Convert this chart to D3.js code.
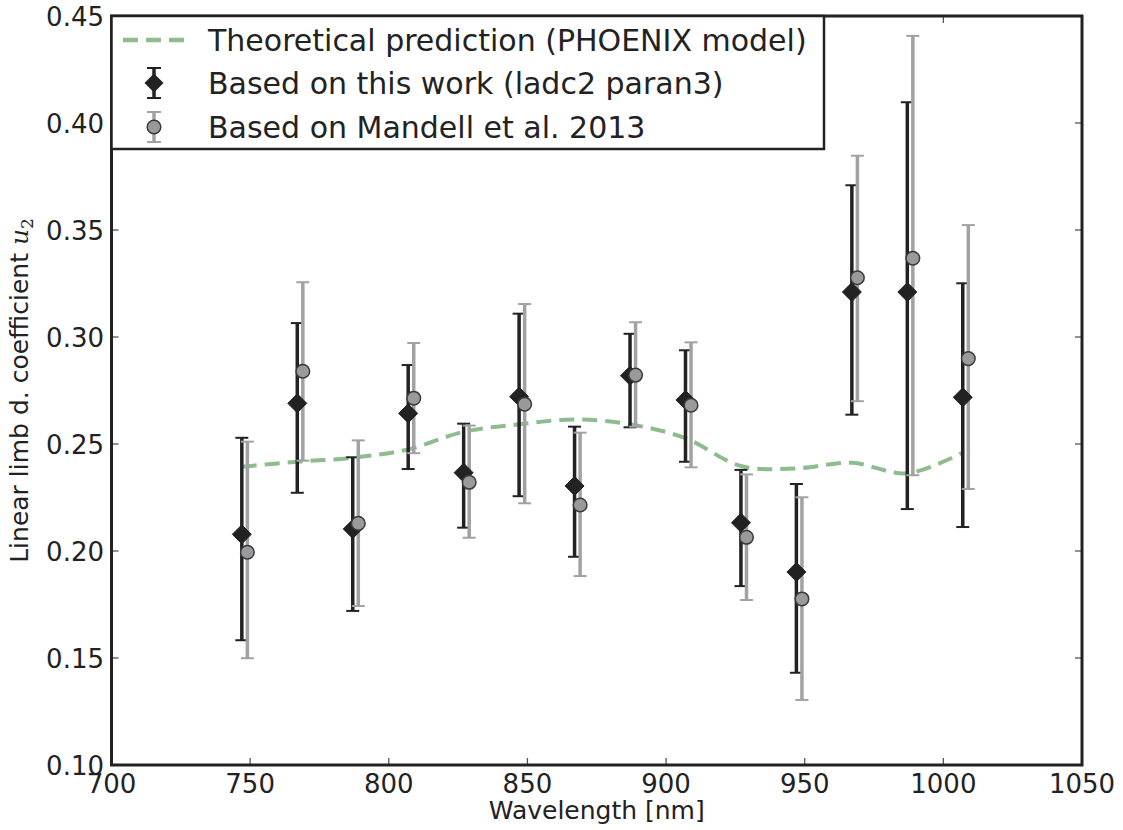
<!DOCTYPE html>
<html>
<head>
<meta charset="utf-8">
<script src="https://cdn.jsdelivr.net/npm/d3@7"></script>
<style>
  html, body { margin: 0; padding: 0; background: #fff; }
  svg { display: block; }
  text { font-family: "DejaVu Sans", sans-serif; fill: #222; }
</style>
</head>
<body>
<svg id="chart" width="1123" height="830"></svg>
<script>
// ---- data ----
const xTicks = [700, 750, 800, 850, 900, 950, 1000, 1050];
const yTicks = [0.10, 0.15, 0.20, 0.25, 0.30, 0.35, 0.40, 0.45];

const modelWavelength = [747, 767, 787, 807, 827, 847, 867, 887, 907, 927, 947, 967, 987, 1007];
const modelU2 = [0.2394, 0.2417, 0.2436, 0.2475, 0.2557, 0.2592, 0.2615, 0.2592, 0.2527, 0.2397, 0.2386, 0.2412, 0.2363, 0.2460];

const workWavelength = [747, 767, 787, 807, 827, 847, 867, 887, 907, 927, 947, 967, 987, 1007];
const workU2 =    [0.2078, 0.2690, 0.2103, 0.2643, 0.2366, 0.2721, 0.2304, 0.2819, 0.2706, 0.2132, 0.1902, 0.3210, 0.3210, 0.2718];
const workUpper = [0.2529, 0.3065, 0.2438, 0.2869, 0.2595, 0.3109, 0.2581, 0.3015, 0.2938, 0.2379, 0.2313, 0.3709, 0.4097, 0.3251];
const workLower = [0.1583, 0.2272, 0.1720, 0.2383, 0.2109, 0.2256, 0.1973, 0.2578, 0.2417, 0.1836, 0.1431, 0.2637, 0.2196, 0.2112];

const mandellWavelength = [749, 769, 789, 809, 829, 849, 869, 889, 909, 929, 949, 969, 989, 1009];
const mandellU2 =    [0.1994, 0.2840, 0.2129, 0.2714, 0.2321, 0.2686, 0.2215, 0.2822, 0.2681, 0.2064, 0.1776, 0.3277, 0.3368, 0.2899];
const mandellUpper = [0.2511, 0.3256, 0.2517, 0.2972, 0.2586, 0.3154, 0.2553, 0.3069, 0.2975, 0.2358, 0.2251, 0.3847, 0.4407, 0.3523];
const mandellLower = [0.1499, 0.2422, 0.1743, 0.2457, 0.2062, 0.2223, 0.1883, 0.2581, 0.2391, 0.1771, 0.1304, 0.2700, 0.2354, 0.2290];

const legendLabels = [
  "Theoretical prediction (PHOENIX model)",
  "Based on this work (ladc2 paran3)",
  "Based on Mandell et al. 2013"
];

// ---- layout ----
const svg = d3.select("#chart");
const L = 111.5, R = 1082, T = 16, B = 765;
const x = d3.scaleLinear().domain([700, 1050]).range([L, R]);
const y = d3.scaleLinear().domain([0.10, 0.45]).range([B, T]);

const black = "#222222";
const greyFill = "#9a9a9c";
const greyBar = "#a2a2a4";
const green = "#8fbc8f";

// model line
const line = d3.line().x(d => x(d[0])).y(d => y(d[1])).curve(d3.curveCatmullRom.alpha(0.5));
svg.append("path")
  .datum(modelWavelength.map((w, i) => [w, modelU2[i]]))
  .attr("d", line)
  .attr("fill", "none")
  .attr("stroke", green)
  .attr("stroke-width", 4)
  .attr("stroke-dasharray", "15,8");

function errorBars(g, wl, lo, hi, color, width) {
  const data = wl.map((w, i) => ({w, lo: lo[i], hi: hi[i]}));
  g.selectAll("line.bar").data(data).join("line")
    .attr("x1", d => x(d.w)).attr("x2", d => x(d.w))
    .attr("y1", d => y(d.lo)).attr("y2", d => y(d.hi))
    .attr("stroke", color).attr("stroke-width", width);
  ["lo", "hi"].forEach(k => {
    g.selectAll("line.cap" + k).data(data).join("line")
      .attr("x1", d => x(d.w) - 6.5).attr("x2", d => x(d.w) + 6.5)
      .attr("y1", d => y(d[k])).attr("y2", d => y(d[k]))
      .attr("stroke", color).attr("stroke-width", 2);
  });
}

const gWork = svg.append("g");
errorBars(gWork, workWavelength, workLower, workUpper, black, 3.5);
const gMan = svg.append("g");
errorBars(gMan, mandellWavelength, mandellLower, mandellUpper, greyBar, 3.5);

const diamond = "M0,-9.5L9.5,0L0,9.5L-9.5,0Z";
svg.append("g").selectAll("path").data(workWavelength).join("path")
  .attr("d", diamond)
  .attr("transform", (w, i) => `translate(${x(w)},${y(workU2[i])})`)
  .attr("fill", black).attr("stroke", black).attr("stroke-width", 1);

svg.append("g").selectAll("circle").data(mandellWavelength).join("circle")
  .attr("cx", w => x(w)).attr("cy", (w, i) => y(mandellU2[i]))
  .attr("r", 6.8)
  .attr("fill", greyFill).attr("stroke", "#3a3a3a").attr("stroke-width", 1.5);

// ticks (inside, all four sides)
const tickColor = "#555";
const tg = svg.append("g").attr("stroke", tickColor).attr("stroke-width", 1.3);
xTicks.forEach(t => {
  tg.append("line").attr("x1", x(t)).attr("x2", x(t)).attr("y1", B).attr("y2", B - 7);
  tg.append("line").attr("x1", x(t)).attr("x2", x(t)).attr("y1", T).attr("y2", T + 7);
});
yTicks.forEach(t => {
  tg.append("line").attr("x1", L).attr("x2", L + 7).attr("y1", y(t)).attr("y2", y(t));
  tg.append("line").attr("x1", R).attr("x2", R - 7).attr("y1", y(t)).attr("y2", y(t));
});

// tick labels
svg.append("g").selectAll("text").data(xTicks).join("text")
  .attr("x", d => x(d)).attr("y", 793)
  .attr("text-anchor", "middle").attr("font-size", 26)
  .text(d => d3.format("d")(d));
svg.append("g").selectAll("text").data(yTicks).join("text")
  .attr("x", 104).attr("y", d => y(d) + 9.5)
  .attr("text-anchor", "end").attr("font-size", 26)
  .text(d => d3.format(".2f")(d));

// frame
svg.append("rect").attr("x", L).attr("y", T).attr("width", R - L).attr("height", B - T)
  .attr("fill", "none").attr("stroke", black).attr("stroke-width", 3);

// axis labels
svg.append("text").attr("x", (L + R) / 2).attr("y", 819)
  .attr("text-anchor", "middle").attr("font-size", 25).text("Wavelength [nm]");
const yl = svg.append("text")
  .attr("transform", `translate(28,${(T + B) / 2}) rotate(-90)`)
  .attr("text-anchor", "middle").attr("font-size", 25);
yl.append("tspan").text("Linear limb d. coefficient ");
yl.append("tspan").attr("font-family", "DejaVu Serif").attr("font-style", "italic").text("u");
yl.append("tspan").attr("font-size", 17).attr("dy", 5).attr("font-family", "DejaVu Serif").text("2");

// legend
const lg = svg.append("g");
lg.append("rect").attr("x", L).attr("y", T).attr("width", 824 - L).attr("height", 149 - T)
  .attr("fill", "#fff").attr("stroke", black).attr("stroke-width", 2.5);
const rows = [40, 83, 127];
lg.append("line").attr("x1", 123).attr("x2", 186).attr("y1", rows[0]).attr("y2", rows[0])
  .attr("stroke", green).attr("stroke-width", 4.5).attr("stroke-dasharray", "15,8");
// work handle
const hx = 154;
lg.append("line").attr("x1", hx).attr("x2", hx).attr("y1", rows[1] - 15).attr("y2", rows[1] + 15)
  .attr("stroke", black).attr("stroke-width", 3.5);
[rows[1] - 15, rows[1] + 15].forEach(yy => lg.append("line").attr("x1", hx - 7).attr("x2", hx + 7)
  .attr("y1", yy).attr("y2", yy).attr("stroke", black).attr("stroke-width", 2));
lg.append("path").attr("d", diamond).attr("transform", `translate(${hx},${rows[1]})`).attr("fill", black);
// mandell handle
lg.append("line").attr("x1", hx).attr("x2", hx).attr("y1", rows[2] - 15).attr("y2", rows[2] + 15)
  .attr("stroke", greyBar).attr("stroke-width", 3.5);
[rows[2] - 15, rows[2] + 15].forEach(yy => lg.append("line").attr("x1", hx - 7).attr("x2", hx + 7)
  .attr("y1", yy).attr("y2", yy).attr("stroke", greyBar).attr("stroke-width", 2));
lg.append("circle").attr("cx", hx).attr("cy", rows[2]).attr("r", 6.8)
  .attr("fill", greyFill).attr("stroke", "#3a3a3a").attr("stroke-width", 1.5);
legendLabels.forEach((t, i) => {
  lg.append("text").attr("x", 208).attr("y", rows[i] + 11).attr("font-size", 30).text(t);
});
</script>
</body>
</html>
